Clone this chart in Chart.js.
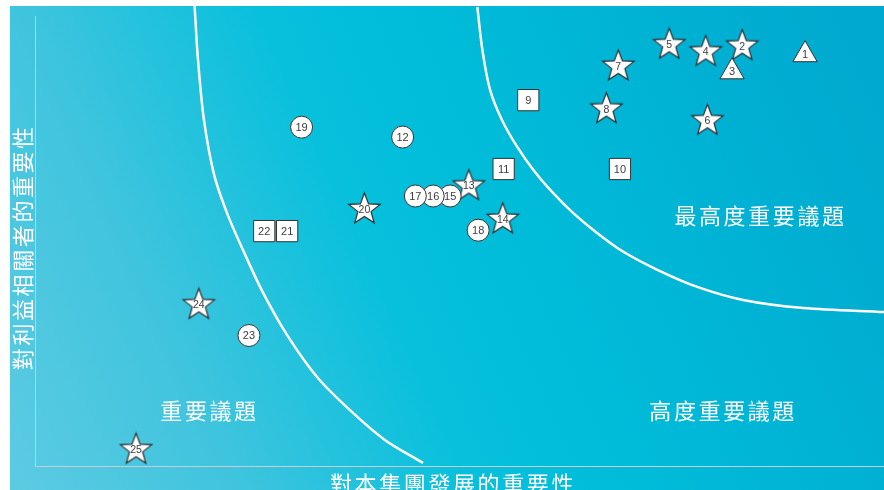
<!DOCTYPE html>
<html>
<head>
<meta charset="utf-8">
<script src="https://cdn.jsdelivr.net/npm/chart.js@4"></script>
<style>
  html, body { margin: 0; padding: 0; background: #ffffff; }
  canvas { display: block; }
</style>
</head>
<body>
<canvas id="matriz" width="884" height="490"></canvas>
<script>
const issueIds = [1, 2, 3, 4, 5, 6, 7, 8, 9, 10, 11, 12, 13, 14, 15, 16, 17, 18, 19, 20, 21, 22, 23, 24, 25];
const markerTypes = [
  "triangle", "star", "triangle", "star", "star", "star", "star", "star", "rect", "rect",
  "rect", "circle", "star", "star", "circle", "circle", "circle", "circle", "circle", "star",
  "rect", "rect", "circle", "star", "star"
];
// importancia para o grupo (eixo x)
const devImportance = [9.07, 8.33, 8.21, 7.90, 7.47, 7.92, 6.87, 6.73, 5.81, 6.89, 5.52, 4.33, 5.11, 5.51, 4.89, 4.69, 4.48, 5.22, 3.14, 3.88, 2.97, 2.70, 2.52, 1.93, 1.19];
// importancia para as partes interessadas (eixo y)
const stakeholderImportance = [9.14, 9.33, 8.76, 9.20, 9.36, 7.67, 8.88, 7.93, 8.13, 6.60, 6.60, 7.31, 6.22, 5.48, 6.00, 6.00, 6.00, 5.24, 7.53, 5.70, 5.22, 5.22, 2.90, 3.58, 0.36];

const innerCurveX = [1.88, 1.92, 1.99, 2.11, 2.27, 2.45, 2.67, 2.97, 3.33, 3.71, 4.12, 4.57];
const innerCurveY = [10.22, 9.02, 7.69, 6.47, 5.58, 4.80, 3.91, 2.91, 1.96, 1.24, 0.58, 0.07];
const outerCurveX = [5.21, 5.27, 5.36, 5.50, 5.68, 5.87, 6.09, 6.34, 6.62, 6.93, 7.33, 7.80, 8.34, 9.05, 10.0];
const outerCurveY = [10.20, 9.24, 8.36, 7.69, 7.09, 6.58, 6.09, 5.62, 5.18, 4.76, 4.36, 3.98, 3.69, 3.51, 3.42];

const quadrantLabels = ["最高度重要議題", "高度重要議題", "重要議題"];
const quadrantX = [8.53, 8.09, 2.04];
const quadrantY = [5.57, 1.22, 1.22];

const xTitle = "對本集團發展的重要性";
const yTitle = "對利益相關者的重要性";

const FONTE_CJK = '"Noto Sans CJK TC", "Noto Sans CJK SC", sans-serif';

function criarEstrela(raio) {
  const c = document.createElement("canvas");
  const lado = Math.ceil(raio * 2 + 4);
  c.width = lado;
  c.height = lado;
  const ctx = c.getContext("2d");
  const cx = lado / 2;
  const cy = lado / 2;
  const interno = raio * 0.42;
  ctx.beginPath();
  for (let i = 0; i < 10; i++) {
    const r = i % 2 === 0 ? raio : interno;
    const ang = -Math.PI / 2 + i * Math.PI / 5;
    const px = cx + Math.cos(ang) * r;
    const py = cy + Math.sin(ang) * r;
    if (i === 0) ctx.moveTo(px, py);
    else ctx.lineTo(px, py);
  }
  ctx.closePath();
  ctx.fillStyle = "#ffffff";
  ctx.fill();
  ctx.strokeStyle = "#2e2e2e";
  ctx.lineWidth = 1.2;
  ctx.stroke();
  return c;
}

const estrela = criarEstrela(16.5);

const raios = { circle: 11, rect: 15, triangle: 14, star: 16 };

const pontos = issueIds.map((id, i) => ({ x: devImportance[i], y: stakeholderImportance[i] }));
const curvaInterna = innerCurveX.map((x, i) => ({ x: x, y: innerCurveY[i] }));
const curvaExterna = outerCurveX.map((x, i) => ({ x: x, y: outerCurveY[i] }));

const fundoPlugin = {
  id: "fundo",
  beforeDraw(chart) {
    const ctx = chart.ctx;
    ctx.save();
    const g = ctx.createLinearGradient(10, 490, 884, 100);
    g.addColorStop(0, "#5ccbe2");
    g.addColorStop(0.22, "#3fc4de");
    g.addColorStop(0.45, "#06c0dc");
    g.addColorStop(0.6, "#00bcd9");
    g.addColorStop(0.85, "#00b0d3");
    g.addColorStop(1, "#00a9cf");
    ctx.fillStyle = g;
    ctx.fillRect(10, 6, 874, 484);
    ctx.restore();
  },
  beforeDatasetsDraw(chart) {
    const ctx = chart.ctx;
    const area = chart.chartArea;
    const sx = chart.scales.x;
    const sy = chart.scales.y;
    ctx.save();

    // eixos
    ctx.strokeStyle = "#c6ced4";
    ctx.lineWidth = 1;
    ctx.beginPath();
    ctx.moveTo(area.left + 0.5, area.top);
    ctx.lineTo(area.left + 0.5, area.bottom + 0.5);
    ctx.lineTo(area.right, area.bottom + 0.5);
    ctx.stroke();

    // rotulos dos quadrantes
    ctx.fillStyle = "#ffffff";
    ctx.font = "22px " + FONTE_CJK;
    ctx.letterSpacing = "2.6px";
    ctx.textAlign = "center";
    ctx.textBaseline = "middle";
    quadrantLabels.forEach((txt, i) => {
      ctx.fillText(txt, sx.getPixelForValue(quadrantX[i]) + 1.3, sy.getPixelForValue(quadrantY[i]));
    });

    // titulos dos eixos
    ctx.fillText(xTitle, 453, 484);
    ctx.translate(22.5, 248.5);
    ctx.rotate(-Math.PI / 2);
    ctx.fillText(yTitle, 1.3, 0);
    ctx.restore();
  },
  afterDatasetsDraw(chart) {
    const ctx = chart.ctx;
    const meta = chart.getDatasetMeta(0);
    ctx.save();
    ctx.fillStyle = "#3c3c3c";
    ctx.textAlign = "center";
    ctx.textBaseline = "middle";
    meta.data.forEach((p, i) => {
      const tipo = markerTypes[i];
      ctx.font = (tipo === "star" ? "10.5px" : "11px") + ' "Liberation Sans", Arial, sans-serif';
      ctx.fillText(String(issueIds[i]), p.x, p.y + 0.5);
    });
    ctx.restore();
  }
};

new Chart(document.getElementById("matriz"), {
  type: "scatter",
  data: {
    datasets: [
      {
        label: "議題",
        data: pontos,
        order: 0,
        pointStyle: markerTypes.map((t) => (t === "star" ? estrela : t)),
        pointRadius: markerTypes.map((t) => raios[t]),
        pointHoverRadius: markerTypes.map((t) => raios[t]),
        pointBackgroundColor: "#ffffff",
        pointBorderColor: "#333333",
        pointBorderWidth: 1,
        clip: false
      },
      {
        type: "line",
        label: "curva interna",
        data: curvaInterna,
        order: 1,
        borderColor: "#ffffff",
        borderWidth: 2.5,
        pointRadius: 0,
        tension: 0.3,
        fill: false,
        clip: false
      },
      {
        type: "line",
        label: "curva externa",
        data: curvaExterna,
        order: 2,
        borderColor: "#ffffff",
        borderWidth: 2.5,
        pointRadius: 0,
        tension: 0.3,
        fill: false,
        clip: false
      }
    ]
  },
  options: {
    responsive: false,
    animation: false,
    events: [],
    layout: {
      autoPadding: false,
      padding: { left: 35, top: 16, right: 0, bottom: 24 }
    },
    plugins: {
      legend: { display: false },
      tooltip: { enabled: false }
    },
    scales: {
      x: { type: "linear", min: 0, max: 10, display: false },
      y: { type: "linear", min: 0, max: 10, display: false }
    }
  },
  plugins: [fundoPlugin]
});
</script>
</body>
</html>
